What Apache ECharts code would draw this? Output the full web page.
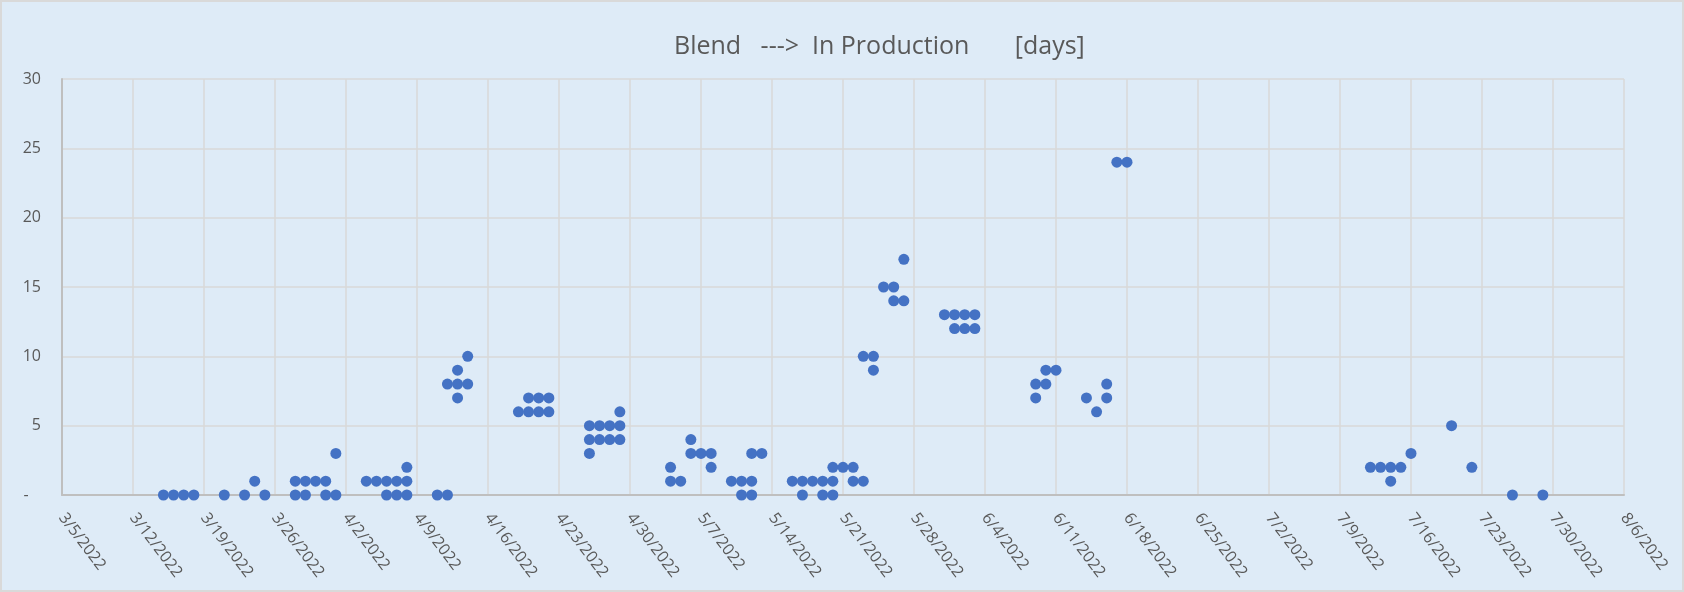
<!DOCTYPE html>
<html>
<head>
<meta charset="utf-8">
<script src="https://cdn.jsdelivr.net/npm/echarts@6/dist/echarts.min.js"></script>
<style>
html,body{margin:0;padding:0;background:#DEEBF7;}
#chart{width:1684px;height:592px;}
</style>
</head>
<body>
<div id="chart"></div>
<script>
const chartTitle = 'Blend   --->  In Production       [days]';
const startDate = '3/5/2022';
const xTickLabels = ['3/5/2022','3/12/2022','3/19/2022','3/26/2022','4/2/2022','4/9/2022','4/16/2022','4/23/2022','4/30/2022','5/7/2022','5/14/2022','5/21/2022','5/28/2022','6/4/2022','6/11/2022','6/18/2022','6/25/2022','7/2/2022','7/9/2022','7/16/2022','7/23/2022','7/30/2022','8/6/2022'];
const yTicks = [0,5,10,15,20,25,30];

const pointDates = [
 '3/15/2022','3/16/2022','3/17/2022','3/18/2022',
 '3/21/2022','3/23/2022','3/24/2022','3/25/2022',
 '3/28/2022','3/28/2022','3/29/2022','3/29/2022','3/30/2022','3/31/2022','3/31/2022','4/1/2022','4/1/2022',
 '4/4/2022','4/5/2022','4/6/2022','4/6/2022','4/7/2022','4/7/2022','4/8/2022','4/8/2022','4/8/2022',
 '4/11/2022','4/12/2022','4/12/2022','4/13/2022','4/13/2022','4/13/2022','4/14/2022','4/14/2022',
 '4/19/2022','4/20/2022','4/20/2022','4/21/2022','4/21/2022','4/22/2022','4/22/2022',
 '4/26/2022','4/26/2022','4/26/2022','4/27/2022','4/27/2022','4/28/2022','4/28/2022','4/29/2022','4/29/2022','4/29/2022',
 '5/4/2022','5/4/2022','5/5/2022','5/6/2022','5/6/2022','5/7/2022','5/8/2022','5/8/2022',
 '5/10/2022','5/11/2022','5/11/2022','5/12/2022','5/12/2022','5/12/2022','5/13/2022',
 '5/16/2022','5/17/2022','5/17/2022','5/18/2022','5/19/2022','5/19/2022','5/20/2022','5/20/2022','5/20/2022',
 '5/21/2022','5/22/2022','5/22/2022','5/23/2022','5/23/2022','5/24/2022','5/24/2022',
 '5/25/2022','5/26/2022','5/26/2022','5/27/2022','5/27/2022',
 '5/31/2022','6/1/2022','6/1/2022','6/2/2022','6/2/2022','6/3/2022','6/3/2022',
 '6/9/2022','6/9/2022','6/10/2022','6/10/2022','6/11/2022',
 '6/14/2022','6/15/2022','6/16/2022','6/16/2022','6/17/2022','6/18/2022',
 '7/12/2022','7/13/2022','7/14/2022','7/14/2022','7/15/2022','7/16/2022','7/20/2022','7/22/2022','7/26/2022','7/29/2022'
];
const pointValues = [
 0,0,0,0,
 0,0,1,0,
 0,1,0,1,1,0,1,0,3,
 1,1,1,0,1,0,1,0,2,
 0,0,8,8,9,7,8,10,
 6,6,7,6,7,6,7,
 5,4,3,5,4,5,4,5,4,6,
 2,1,1,4,3,3,3,2,
 1,1,0,1,0,3,3,
 1,1,0,1,1,0,1,0,2,
 2,2,1,1,10,10,9,
 15,15,14,14,17,
 13,13,12,13,12,13,12,
 8,7,8,9,9,
 7,6,7,8,24,24,
 2,2,2,1,2,3,5,2,0,0
];

function parseDate(s){ const p = s.split('/').map(Number); return Date.UTC(p[2], p[0]-1, p[1]); }
const base = parseDate(startDate);
function dayOffset(s){ return Math.round((parseDate(s) - base) / 86400000); }

const data = pointDates.map((d, i) => [dayOffset(d), pointValues[i]]);
const xMax = dayOffset(xTickLabels[xTickLabels.length - 1]);

const chart = echarts.init(document.getElementById('chart'), null, {renderer: 'canvas'});
const font = "'Open Sans', 'Liberation Sans', sans-serif";
chart.setOption({
  backgroundColor: '#DEEBF7',
  animation: false,
  textStyle: {fontFamily: font},
  title: {
    text: chartTitle,
    left: 674, top: 34, padding: 0,
    textStyle: {fontFamily: font, fontSize: 25, fontWeight: 'normal', color: '#595959'}
  },
  grid: {left: 62, right: 60, top: 79, bottom: 97, containLabel: false},
  xAxis: {
    type: 'value', min: 0, max: xMax, interval: 7,
    axisLine: {show: true, lineStyle: {color: '#BFBFBF', width: 2}},
    axisTick: {show: false},
    splitLine: {show: true, lineStyle: {color: '#D9D9D9', width: 1.5}},
    axisLabel: {
      rotate: -53, margin: 20, color: '#595959', fontSize: 16, fontFamily: font,
      formatter: v => xTickLabels[Math.round(v / 7)] || ''
    }
  },
  yAxis: {
    type: 'value', min: yTicks[0], max: yTicks[yTicks.length-1], interval: 5,
    axisLine: {show: true, lineStyle: {color: '#BFBFBF', width: 2}},
    axisTick: {show: false},
    splitLine: {show: true, lineStyle: {color: '#D9D9D9', width: 1.5}},
    axisLabel: {
      margin: 21, color: '#595959', fontSize: 16, fontFamily: font,
      formatter: v => v === 0 ? '-   ' : String(v)
    }
  },
  graphic: [{
    type: 'rect', silent: true, z: 100,
    shape: {x: 1, y: 1, width: 1682, height: 590},
    style: {fill: 'none', stroke: '#D9D9D9', lineWidth: 2}
  }],
  series: [{
    type: 'scatter', data: data, symbol: 'circle', symbolSize: 11, clip: false,
    itemStyle: {color: '#4472C4', opacity: 1}
  }]
});
</script>
</body>
</html>
